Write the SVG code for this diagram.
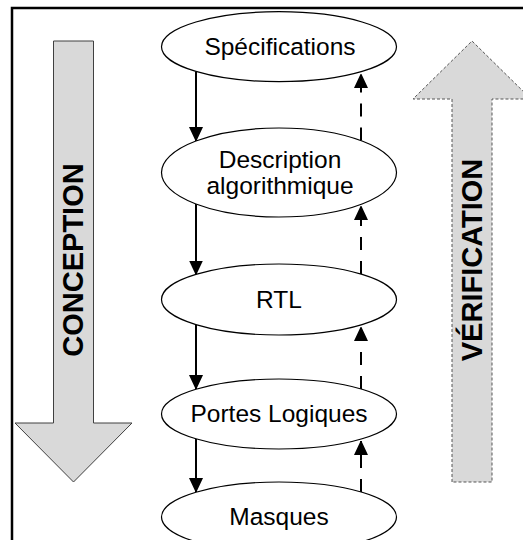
<svg xmlns="http://www.w3.org/2000/svg" width="523" height="540" viewBox="0 0 523 540">
<defs>
<style>
.node ellipse{fill:#fff;stroke:#000;stroke-width:1.2}
.lbl{font-family:"Liberation Sans",Arial,sans-serif;font-size:24.5px;fill:#000;text-anchor:middle}
.big{font-family:"Liberation Sans",Arial,sans-serif;font-size:29px;font-weight:bold;fill:#000;text-anchor:middle}
.down{stroke:#000;stroke-width:2;fill:none;marker-end:url(#ah)}
.up{stroke:#000;stroke-width:2;fill:none;stroke-dasharray:13 11;marker-end:url(#ah)}
</style>
<marker id="ah" viewBox="0 0 14 15" refX="14" refY="7" markerWidth="14" markerHeight="15" markerUnits="userSpaceOnUse" orient="auto">
<path d="M0,0 L15,7 L0,14 Z" fill="#000"/>
</marker>
</defs>
<rect width="523" height="540" fill="#fff"/>
<path d="M12,541 V8 H524" fill="none" stroke="#000" stroke-width="2.5"/>
<g id="conception">
<path d="M53.5,41 H93.5 V423 H132 L73.5,482 L15,423 H53.5 Z" fill="#d9d9d9" stroke="#404040" stroke-width="1"/>
<text class="big" font-size="28.5" transform="translate(83,260) rotate(-90)">CONCEPTION</text>
</g>
<g id="verification">
<path d="M452,482 V99 H413 L472,41 L531,99 H492 V482 Z" fill="#d9d9d9" stroke="#555" stroke-width="1" stroke-dasharray="3 2"/>
<text class="big" transform="translate(482,260) rotate(-90)">VÉRIFICATION</text>
</g>
<g id="connectors">
<line class="down" x1="196" y1="71.5" x2="196" y2="141"/>
<line class="down" x1="196" y1="204" x2="196" y2="274.5"/>
<line class="down" x1="196" y1="324.5" x2="196" y2="389"/>
<line class="down" x1="196" y1="439" x2="196" y2="492"/>
<line class="up" x1="361" y1="140.5" x2="361" y2="74"/>
<line class="up" x1="361" y1="274" x2="361" y2="206"/>
<line class="up" x1="361" y1="389" x2="361" y2="327"/>
<line class="up" x1="361" y1="492" x2="361" y2="441"/>
</g>
<g id="specifications" class="node">
<ellipse cx="279" cy="46.7" rx="117.5" ry="35"/>
<text class="lbl" x="280" y="54.5">Spécifications</text>
</g>
<g id="description" class="node">
<ellipse cx="279" cy="172.5" rx="117.5" ry="44.5"/>
<text class="lbl" x="280" y="167.5">Description</text>
<text class="lbl" x="280" y="193.5">algorithmique</text>
</g>
<g id="rtl" class="node">
<ellipse cx="279" cy="299.5" rx="117.5" ry="35.5"/>
<text class="lbl" x="279" y="307.5">RTL</text>
</g>
<g id="portes" class="node">
<ellipse cx="279" cy="414" rx="117.5" ry="35"/>
<text class="lbl" x="279" y="422">Portes Logiques</text>
</g>
<g id="masques" class="node">
<ellipse cx="279" cy="517" rx="117.5" ry="35"/>
<text class="lbl" x="279" y="525">Masques</text>
</g>
</svg>
